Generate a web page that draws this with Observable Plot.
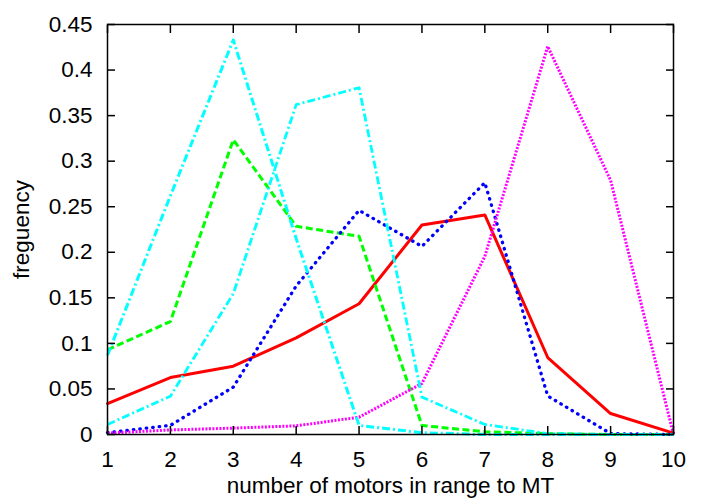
<!DOCTYPE html>
<html>
<head>
<meta charset="utf-8">
<script src="https://cdn.jsdelivr.net/npm/d3@7"></script>
<script src="https://cdn.jsdelivr.net/npm/@observablehq/plot@0.6"></script>
<style>
  html, body { margin: 0; padding: 0; background: #fff; }
  svg { display: block; }
</style>
</head>
<body>
<div id="chart"></div>
<script>
const motors = [1, 2, 3, 4, 5, 6, 7, 8, 9, 10];
const redSeries = [0.034, 0.0625, 0.075, 0.106, 0.1435, 0.230, 0.241, 0.0845, 0.023, 0.0015];
const greenSeries = [0.093, 0.124, 0.3235, 0.2285, 0.2175, 0.0099, 0.003, 0.001, 0, 0];
const blueSeries = [0.002, 0.010, 0.052, 0.163, 0.246, 0.2065, 0.2764, 0.0423, 0.001, 0];
const magentaSeries = [0.0015, 0.005, 0.007, 0.0095, 0.019, 0.056, 0.1955, 0.426, 0.279, 0];
const cyanSeriesA = [0.087, 0.262, 0.433, 0.215, 0.010, 0.002, 0, 0, 0, 0];
const cyanSeriesB = [0.011, 0.042, 0.1546, 0.362, 0.3806, 0.041, 0.011, 0.001, 0, 0];
const xTicks = [1, 2, 3, 4, 5, 6, 7, 8, 9, 10];
const yTicks = [0, 0.05, 0.1, 0.15, 0.2, 0.25, 0.3, 0.35, 0.4, 0.45];
const xLabel = "number of motors in range to MT";
const yLabel = "freguency";

const rows = arr => motors.map((x, i) => ({x, y: arr[i]}));
const fmt = d => String(+d.toFixed(2));
const font = "'Liberation Sans', Arial, Helvetica, sans-serif";

const chart = Plot.plot({
  width: 702,
  height: 503,
  marginLeft: 107,
  marginRight: 29,
  marginTop: 24,
  marginBottom: 69,
  style: {fontFamily: font, fontSize: "22.5px", color: "#000", background: "#fff"},
  x: {domain: [1, 10]},
  y: {domain: [0, 0.45]},
  marks: [
    Plot.line(rows(redSeries), {x: "x", y: "y", stroke: "#ff0000", strokeWidth: 3}),
    Plot.line(rows(greenSeries), {x: "x", y: "y", stroke: "#00ff00", strokeWidth: 3, strokeDasharray: "7,3.5", strokeLinecap: "butt"}),
    Plot.line(rows(blueSeries), {x: "x", y: "y", stroke: "#0000ff", strokeWidth: 3.3, strokeDasharray: "0.5,6", strokeLinecap: "round"}),
    Plot.line(rows(magentaSeries), {x: "x", y: "y", stroke: "#ff00ff", strokeWidth: 3, strokeDasharray: "2,1.5", strokeLinecap: "butt"}),
    Plot.line(rows(cyanSeriesA), {x: "x", y: "y", stroke: "#00ffff", strokeWidth: 3, strokeDasharray: "8,3,2,3", strokeLinecap: "butt"}),
    Plot.line(rows(cyanSeriesB), {x: "x", y: "y", stroke: "#00ffff", strokeWidth: 2.8, strokeDasharray: "8,3,2,3", strokeLinecap: "butt"}),
    Plot.axisX(xTicks, {anchor: "bottom", tickSize: 0, tickPadding: 17, tickFormat: fmt, fontSize: 22.5, label: null}),
    Plot.axisY(yTicks, {anchor: "left", tickSize: 0, tickPadding: 15, tickFormat: fmt, fontSize: 22.5, label: null}),
    Plot.axisX(xTicks, {anchor: "bottom", tickSize: -8, fill: "none", strokeWidth: 1.5, label: null}),
    Plot.axisX(xTicks, {anchor: "top", tickSize: -8, fill: "none", strokeWidth: 1.5, label: null}),
    Plot.axisY(yTicks, {anchor: "left", tickSize: -8, fill: "none", strokeWidth: 1.5, label: null}),
    Plot.axisY(yTicks, {anchor: "right", tickSize: -8, fill: "none", strokeWidth: 1.5, label: null}),
    Plot.frame({stroke: "#000", strokeWidth: 1.5}),
    Plot.text([xLabel], {frameAnchor: "bottom", dy: 58, textAnchor: "middle", text: d => d, fontSize: 22.5, fill: "#000"}),
    Plot.text([yLabel], {frameAnchor: "left", dx: -79, rotate: -90, textAnchor: "middle", lineAnchor: "bottom", text: d => d, fontSize: 22.5, fill: "#000"})
  ]
});
document.getElementById("chart").appendChild(chart);
</script>
</body>
</html>
